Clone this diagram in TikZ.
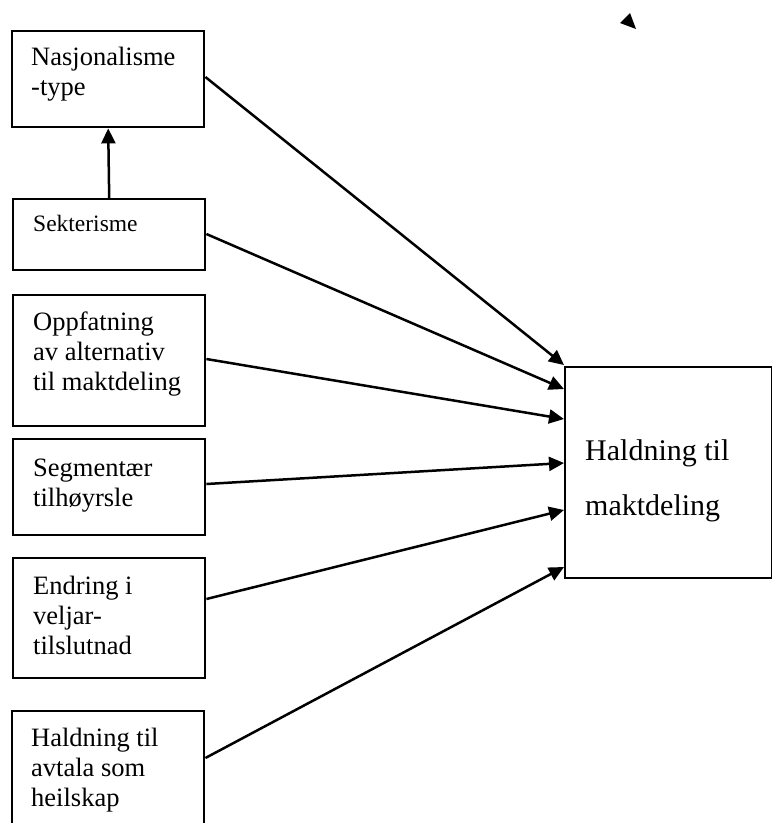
\documentclass[tikz,border=0pt]{standalone}
\usepackage{fontspec}
\setmainfont{Liberation Serif}
\usetikzlibrary{arrows.meta}
\begin{document}
\begin{tikzpicture}[x=1pt,y=-1pt,
  box/.style={draw,line width=2.4pt,inner sep=0pt,anchor=north west},
  ltxt/.style={anchor=base west,inner sep=0pt,font=\fontsize{26.5}{30}\selectfont},
  stxt/.style={anchor=base west,inner sep=0pt,font=\fontsize{23.5}{27}\selectfont},
  rtxt/.style={anchor=base west,inner sep=0pt,font=\fontsize{30}{34}\selectfont},
  arr/.style={line width=2.5pt,-{Triangle[length=15pt,width=14pt]}}]
\useasboundingbox (0,0) rectangle (772,823);
% boxes
\node[box,minimum width=192pt,minimum height=96pt] (b1) at (11,30) {};
\node[box,minimum width=192pt,minimum height=71pt] (b2) at (12,198) {};
\node[box,minimum width=192pt,minimum height=131pt] (b3) at (12,294) {};
\node[box,minimum width=192pt,minimum height=96pt] (b4) at (12,438) {};
\node[box,minimum width=192pt,minimum height=120pt] (b5) at (12,557) {};
\node[box,minimum width=192pt,minimum height=130pt] (b6) at (11,710) {};
\node[box,minimum width=207pt,minimum height=211pt] (R) at (564,366) {};
% texts
\node[ltxt] (t1a) at (31,65) {Nasjonalisme};
\node[ltxt] (t1b) at (31,95) {-type};
\node[stxt] (t2a) at (33,231) {Sekterisme};
\node[ltxt] (t3a) at (33,330) {Oppfatning};
\node[ltxt] (t3b) at (33,360) {av alternativ};
\node[ltxt] (t3c) at (33,390) {til maktdeling};
\node[ltxt] (t4a) at (33,476) {Segmentær};
\node[ltxt] (t4b) at (33,506) {tilhøyrsle};
\node[ltxt] (t5a) at (33,594) {Endring i};
\node[ltxt] (t5b) at (33,624) {veljar-};
\node[ltxt] (t5c) at (33,654) {tilslutnad};
\node[ltxt] (t6a) at (31,746) {Haldning til};
\node[ltxt] (t6b) at (31,776) {avtala som};
\node[ltxt] (t6c) at (31,806) {heilskap};
\node[rtxt] (tra) at (585,460) {Haldning til};
\node[rtxt] (trb) at (585,515) {maktdeling};
% connectors
\draw[arr] (b2.north) -- (b1.south);
\draw[arr] ([yshift=-47pt]b1.north east) -- ([yshift=1pt]R.north west);
\draw[arr] ([yshift=-36pt]b2.north east) -- ([yshift=-23pt]R.north west);
\draw[arr] ([yshift=-65pt]b3.north east) -- ([yshift=-53pt]R.north west);
\draw[arr] ([yshift=-46pt]b4.north east) -- ([yshift=-97pt]R.north west);
\draw[arr] ([yshift=-42pt]b5.north east) -- ([yshift=-144pt]R.north west);
\draw[arr] ([yshift=-48pt]b6.north east) -- ([yshift=-201pt]R.north west);
% stray arrowhead
\fill (620,23) -- (630,13) -- (636,29) -- cycle;
\end{tikzpicture}
\end{document}
